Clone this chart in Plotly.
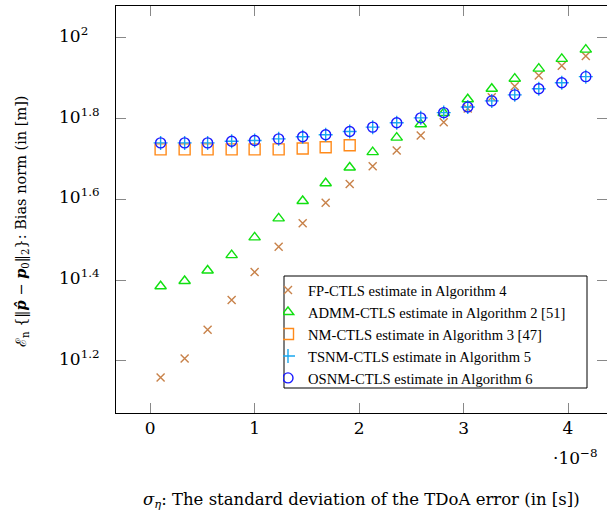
import plotly.graph_objects as go

# sigma_eta in units of 1e-8 s
sigma_e8 = [0.10, 0.33, 0.55, 0.78, 1.00, 1.23, 1.46, 1.68, 1.91, 2.13,
            2.36, 2.59, 2.81, 3.04, 3.27, 3.49, 3.72, 3.94, 4.17]

# log10 of bias norm [m]
fp_log = [1.159, 1.206, 1.277, 1.351, 1.420, 1.483, 1.541, 1.592, 1.638, 1.682,
          1.721, 1.758, 1.791, 1.825, 1.853, 1.880, 1.907, 1.931, 1.955]
admm_log = [1.385, 1.398, 1.424, 1.462, 1.506, 1.553, 1.596, 1.640, 1.679, 1.717,
            1.753, 1.786, 1.814, 1.848, 1.874, 1.899, 1.924, 1.948, 1.971]
nm_log = [1.724, 1.724, 1.724, 1.724, 1.724, 1.724, 1.726, 1.729, 1.734]
tsnm_log = [1.740, 1.740, 1.740, 1.744, 1.746, 1.750, 1.755, 1.760, 1.768, 1.779,
            1.790, 1.802, 1.815, 1.829, 1.844, 1.859, 1.874, 1.889, 1.904]
osnm_log = list(tsnm_log)

y_tick_exp = [1.2, 1.4, 1.6, 1.8, 2.0]
y_tick_text = ["10<sup>1.2</sup>", "10<sup>1.4</sup>", "10<sup>1.6</sup>", "10<sup>1.8</sup>", "10<sup>2</sup>"]
x_ticks = [0, 1, 2, 3, 4]

names = ["FP-CTLS estimate in Algorithm 4",
         "ADMM-CTLS estimate in Algorithm 2 [51]",
         "NM-CTLS estimate in Algorithm 3 [47]",
         "TSNM-CTLS estimate in Algorithm 5",
         "OSNM-CTLS estimate in Algorithm 6"]

def tolin(vals):
    return [10 ** v for v in vals]

C_FP, C_ADMM, C_NM, C_TS, C_OS = "#c8824a", "#10e010", "#ff8a1a", "#1aa8f0", "#1a1aff"

fig = go.Figure()
fig.add_trace(go.Scatter(x=sigma_e8, y=tolin(fp_log), mode="markers", name=names[0],
                         marker=dict(symbol="x-thin-open", size=8, color=C_FP,
                                     line=dict(color=C_FP, width=1.4))))
fig.add_trace(go.Scatter(x=sigma_e8, y=tolin(admm_log), mode="markers", name=names[1],
                         marker=dict(symbol="triangle-up-open", size=10, color=C_ADMM,
                                     line=dict(color=C_ADMM, width=1.4))))
fig.add_trace(go.Scatter(x=sigma_e8[:len(nm_log)], y=tolin(nm_log), mode="markers", name=names[2],
                         marker=dict(symbol="square-open", size=11, color=C_NM,
                                     line=dict(color=C_NM, width=1.4))))
fig.add_trace(go.Scatter(x=sigma_e8, y=tolin(tsnm_log), mode="markers", name=names[3],
                         marker=dict(symbol="cross-thin-open", size=10, color=C_TS,
                                     line=dict(color=C_TS, width=1.4))))
fig.add_trace(go.Scatter(x=sigma_e8, y=tolin(osnm_log), mode="markers", name=names[4],
                         marker=dict(symbol="circle-open", size=10, color=C_OS,
                                     line=dict(color=C_OS, width=1.4))))
# invisible trace for right-hand ticks
fig.add_trace(go.Scatter(x=[None], y=[None], yaxis="y2", showlegend=False, hoverinfo="skip"))

yr = [1.071, 2.079]
PW, PH, L, T = 491, 407, 116, 6
def px(xp):
    return (xp - L) / PW
def py(yp):
    return (T + PH - yp) / PH

fig.update_layout(
    width=607, height=512,
    margin=dict(l=L, r=0, t=T, b=512 - T - PH),
    plot_bgcolor="white", paper_bgcolor="white",
    font=dict(family="Liberation Serif", size=15, color="black"),
    xaxis=dict(range=[-0.327, 4.373], tickvals=x_ticks, ticks="inside", ticklen=10,
               tickcolor="#888888", showline=True, linecolor="black", linewidth=1,
               mirror="ticks", showgrid=False, zeroline=False,
               tickfont=dict(family="DejaVu Serif", size=17)),
    yaxis=dict(type="log", range=yr, tickvals=tolin(y_tick_exp), ticks="inside", ticklen=10,
               tickcolor="#888888", showline=True, linecolor="black", linewidth=1,
               showgrid=False, zeroline=False, showticklabels=False),
    yaxis2=dict(type="log", range=yr, overlaying="y", side="right", tickvals=tolin(y_tick_exp),
                ticks="inside", ticklen=10, tickcolor="#888888", showline=False,
                showgrid=False, zeroline=False, showticklabels=False),
    legend=dict(x=px(283), y=py(274), xanchor="left", yanchor="top",
                bgcolor="rgba(0,0,0,0)", borderwidth=0,
                font=dict(family="Liberation Serif", size=14.6), indentation=-15,
                itemwidth=30, tracegroupgap=0),
    shapes=[dict(type="rect", xref="paper", yref="paper", x0=px(284), x1=px(587),
                 y0=py(388), y1=py(276), line=dict(color="black", width=1),
                 fillcolor="white", layer="above")],
)

for e, t in zip(y_tick_exp, y_tick_text):
    fig.add_annotation(x=px(57), xref="paper", y=e, yref="y", text=t,
                       showarrow=False, xanchor="left", yanchor="middle", yshift=3,
                       font=dict(family="DejaVu Serif", size=17))

fig.add_annotation(x=px(600), xref="paper", y=py(457), yref="paper",
                   text="·10<sup>−8</sup>", showarrow=False, xanchor="right", yanchor="middle",
                   font=dict(family="DejaVu Serif", size=17))
fig.add_annotation(x=px(361), xref="paper", y=py(500), yref="paper",
                   text="<i>σ<sub>η</sub></i>: The standard deviation of the TDoA error (in [s])",
                   showarrow=False, xanchor="center", yanchor="middle",
                   font=dict(family="DejaVu Serif", size=16.5))
fig.add_annotation(x=px(22), xref="paper", y=py(222), yref="paper",
                   text="ℰ<sub>n</sub> {‖<b><i>p̂</i></b> − <b><i>p</i></b><sub>0</sub>‖<sub>2</sub>}: Bias norm (in [m])",
                   showarrow=False, textangle=-90, xanchor="center", yanchor="middle",
                   font=dict(family="DejaVu Serif", size=14.5))

fig.write_html("out.html")
